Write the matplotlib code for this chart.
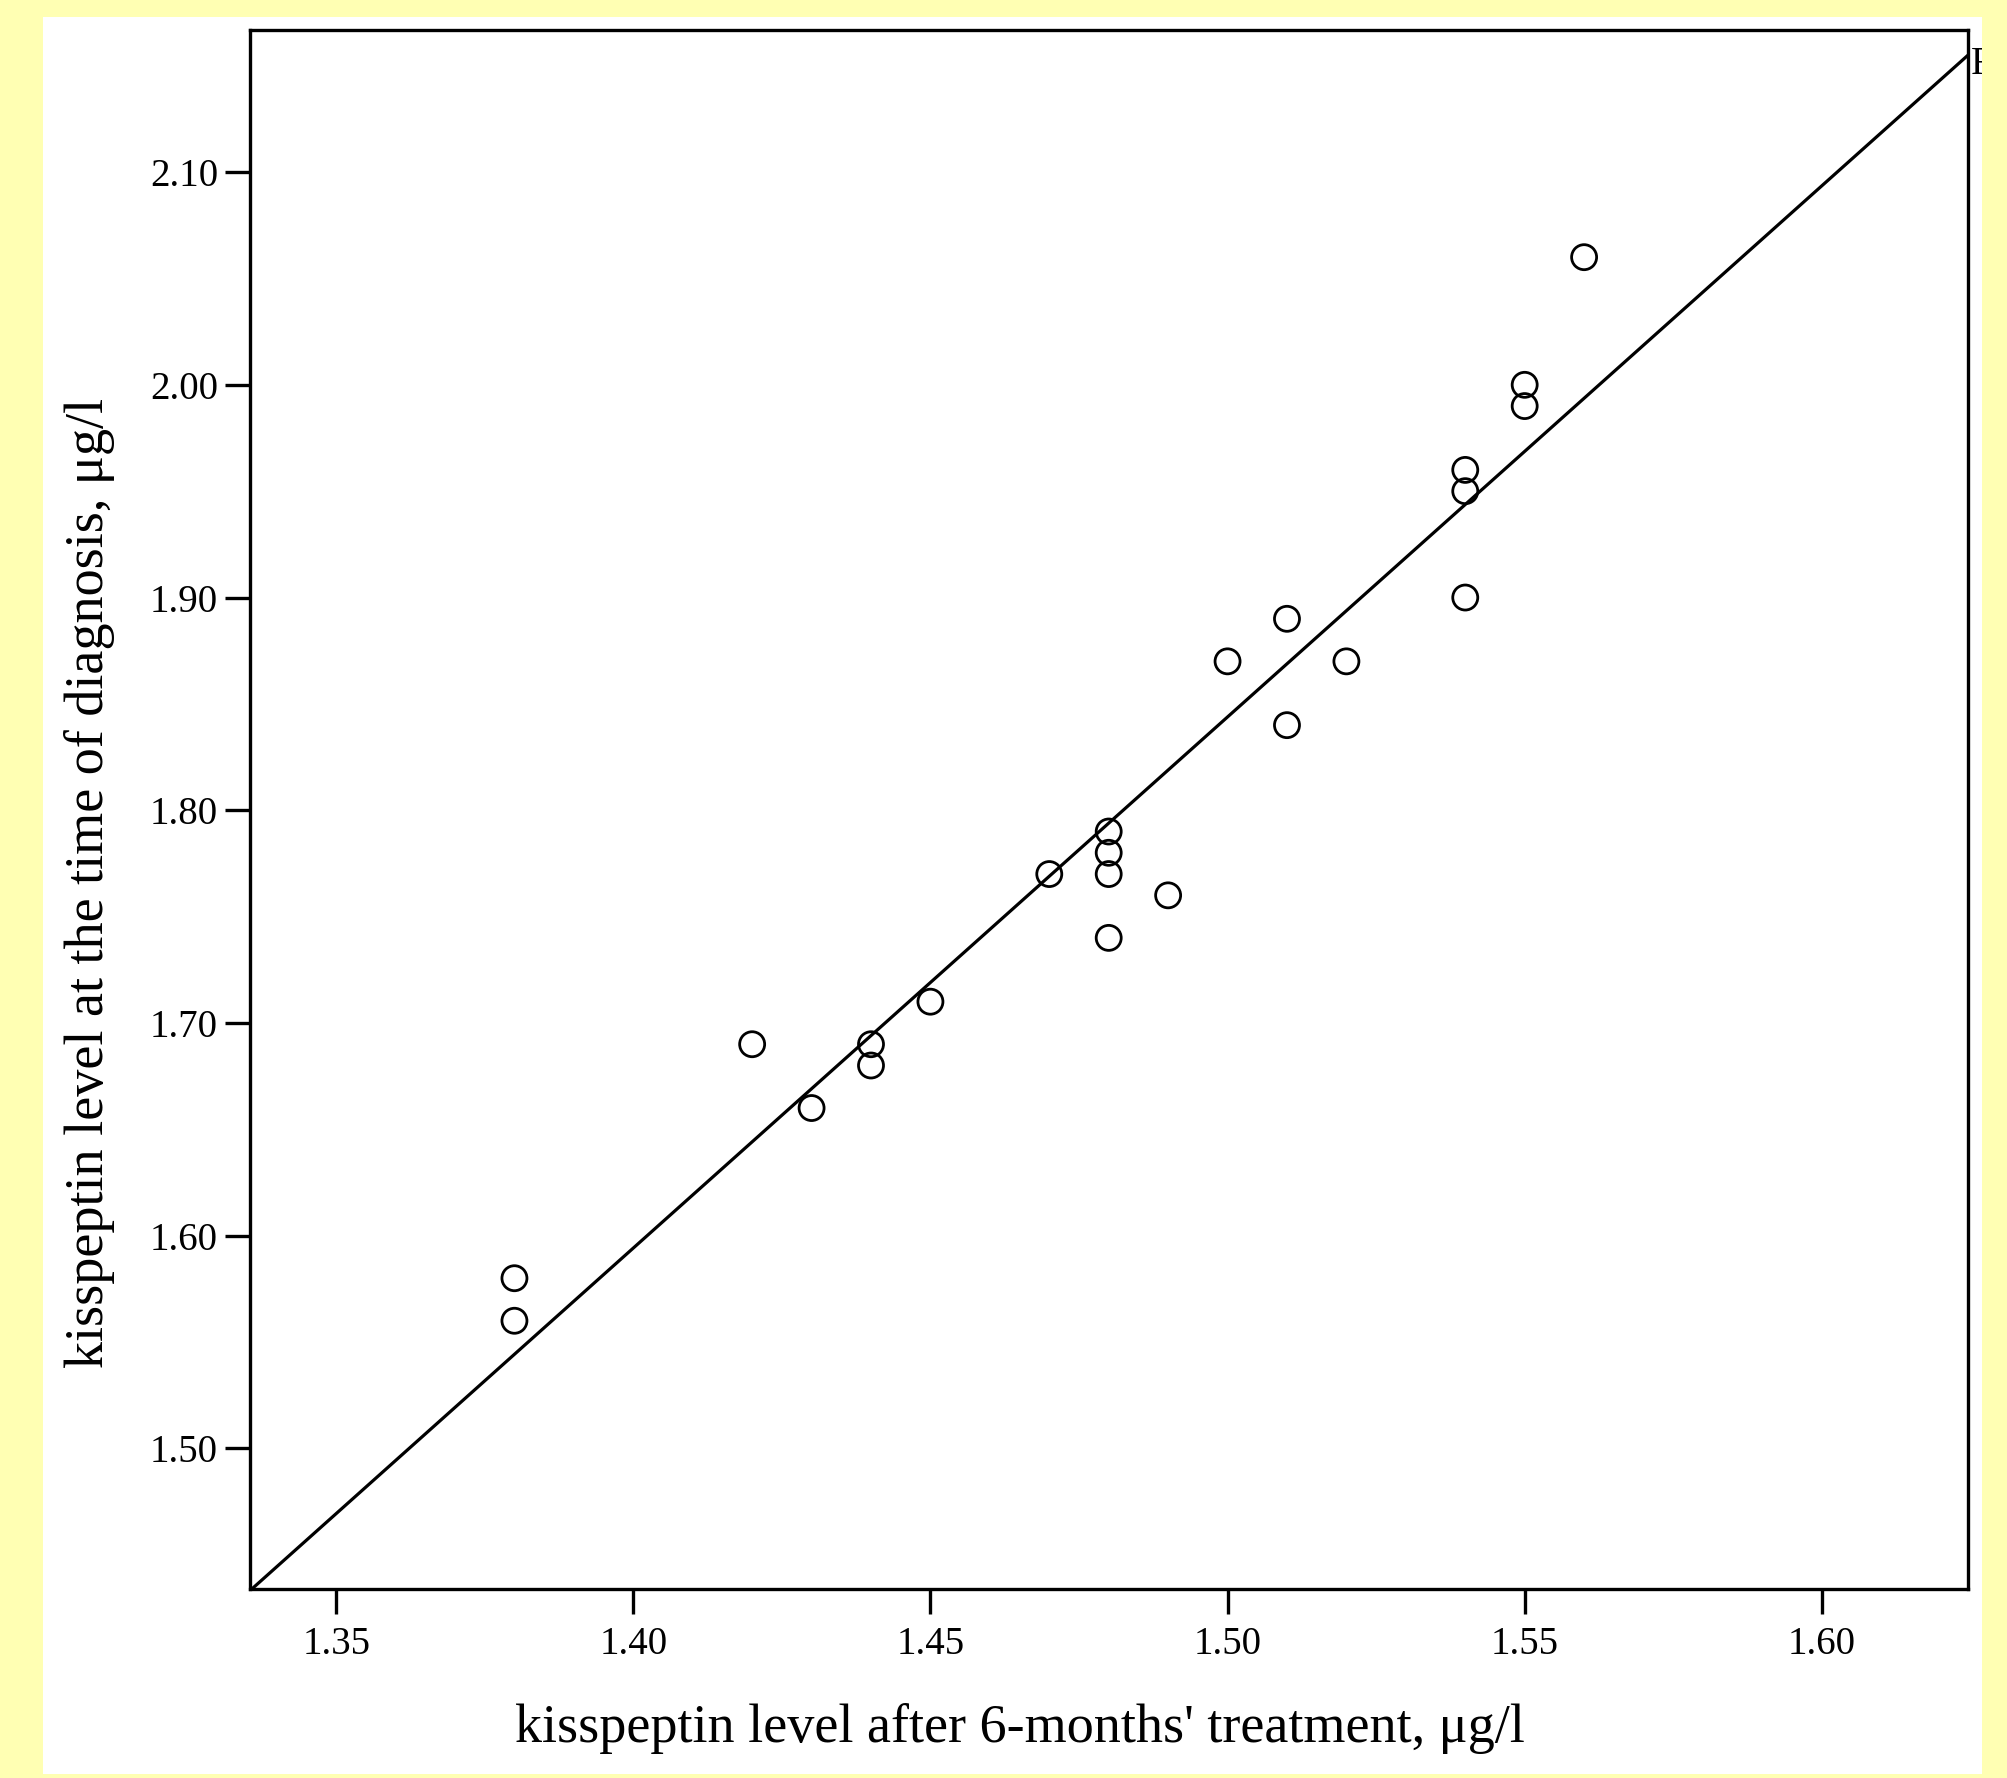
import matplotlib.pyplot as plt
from matplotlib.patches import Rectangle
import numpy as np

# kisspeptin after 6 months' treatment (x) vs at diagnosis (y), ug/l
after_treatment = [1.38, 1.38, 1.42, 1.43, 1.44, 1.44, 1.45, 1.47, 1.48, 1.48,
                   1.48, 1.48, 1.49, 1.50, 1.51, 1.51, 1.52, 1.54, 1.54, 1.54,
                   1.55, 1.55, 1.56]
at_diagnosis = [1.58, 1.56, 1.69, 1.66, 1.69, 1.68, 1.71, 1.77, 1.79, 1.78,
                1.77, 1.74, 1.76, 1.87, 1.89, 1.84, 1.87, 1.96, 1.95, 1.90,
                2.00, 1.99, 2.06]
x_ticks = [1.35, 1.40, 1.45, 1.50, 1.55, 1.60]
y_ticks = [1.50, 1.60, 1.70, 1.80, 1.90, 2.00, 2.10]

plt.rcParams['font.family'] = ['Liberation Serif', 'DejaVu Serif']

W, H = 2008, 1778
fig = plt.figure(figsize=(W / 100, H / 100), dpi=100)
fig.patch.set_facecolor('#FFFFB3')

# white slide panel behind everything
fig.patches.append(Rectangle((43 / W, 0.002), (1982 - 43) / W, 1 - 17 / H - 0.002,
                             transform=fig.transFigure, facecolor='white',
                             edgecolor='none', zorder=-5))

ax = fig.add_axes([250 / W, 1 - 1589 / H, (1968 - 250) / W, (1589 - 30) / H])
ax.set_zorder(1)
xlim = (1.3355, 1.6246)
ylim = (1.4339, 2.1668)
ax.set_xlim(*xlim)
ax.set_ylim(*ylim)

x = np.array(after_treatment)
y = np.array(at_diagnosis)
ax.scatter(x, y, s=18 ** 2, facecolors='none', edgecolors='black',
           linewidths=2.0, zorder=3)

# least squares fit line across the whole plot
slope, intercept = np.polyfit(x, y, 1)
xs = np.array(xlim)
ax.plot(xs, intercept + slope * xs, color='black', linewidth=2.3, zorder=2)

ax.set_xticks(x_ticks)
ax.set_xticklabels([f"{t:.2f}" for t in x_ticks])
ax.set_yticks(y_ticks)
ax.set_yticklabels([f"{t:.2f}" for t in y_ticks])
ax.tick_params(direction='out', length=18, width=2.4, labelsize=28, colors='black')
ax.tick_params(axis='x', pad=9)
ax.tick_params(axis='y', pad=5)
for side in ['top', 'right', 'bottom', 'left']:
    ax.spines[side].set_linewidth(2.4)
    ax.spines[side].set_color('black')

fig.text(1020 / W, 1 - 1729 / H, "kisspeptin level after 6-months' treatment, μg/l",
         ha='center', va='center', fontsize=39)
fig.text(90 / W, 1 - 883 / H, "kisspeptin level at the time of diagnosis, μg/l",
         ha='center', va='center', fontsize=39, rotation=90)

# cut-off fit label at the right edge
fig.text(1971 / W, 1 - 65 / H, "R", ha='left', va='center', fontsize=28)
fig.patches.append(Rectangle((1982 / W, 0), 1 - 1982 / W, 1,
                             transform=fig.transFigure, facecolor='#FFFFB3',
                             edgecolor='none', zorder=10))

fig.savefig('out.png', dpi=100)
